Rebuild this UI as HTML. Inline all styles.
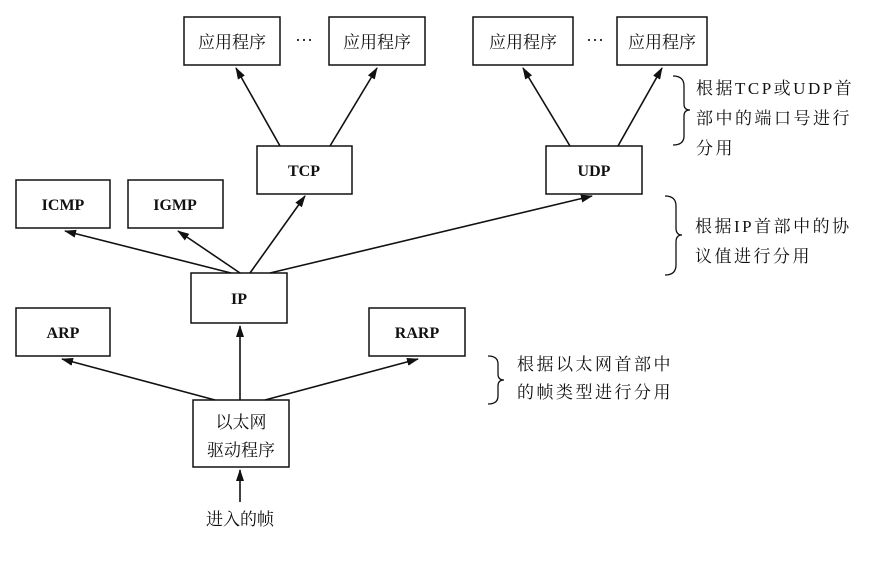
<!DOCTYPE html>
<html><head><meta charset="utf-8"><style>
body{margin:0;background:#fff;}
svg text{font-family:"Liberation Serif","Noto Serif CJK SC",serif;fill:#111;}
.cn{font-family:"Liberation Serif","Noto Sans CJK SC",sans-serif;font-size:16px;}
.rt{font-family:"Liberation Mono","Noto Sans CJK SC",sans-serif;font-size:17px;letter-spacing:2.5px;}
.en{font-weight:bold;font-size:16px;}
</style></head><body>
<svg width="878" height="559" viewBox="0 0 878 559" xmlns="http://www.w3.org/2000/svg">
<defs><marker id="a" markerWidth="12" markerHeight="8" refX="11" refY="4" orient="auto" markerUnits="userSpaceOnUse"><path d="M0,0 L12,4 L0,8 Z" fill="#111"/></marker></defs>
<g fill="#fff" stroke="#111" stroke-width="1.5">
<rect x="184" y="17" width="96" height="48"/>
<rect x="329" y="17" width="96" height="48"/>
<rect x="473" y="17" width="100" height="48"/>
<rect x="617" y="17" width="90" height="48"/>
<rect x="257" y="146" width="95" height="48"/>
<rect x="546" y="146" width="96" height="48"/>
<rect x="16" y="180" width="94" height="48"/>
<rect x="128" y="180" width="95" height="48"/>
<rect x="191" y="273" width="96" height="50"/>
<rect x="16" y="308" width="94" height="48"/>
<rect x="369" y="308" width="96" height="48"/>
<rect x="193" y="400" width="96" height="67"/>
</g>
<g stroke="#111" stroke-width="1.6" marker-end="url(#a)">
<line x1="280" y1="146" x2="236" y2="68"/>
<line x1="330" y1="146" x2="377" y2="68"/>
<line x1="570" y1="146" x2="523" y2="68"/>
<line x1="618" y1="146" x2="662" y2="68"/>
<line x1="231" y1="273" x2="65" y2="231"/>
<line x1="240" y1="273" x2="178" y2="231"/>
<line x1="250" y1="273" x2="305" y2="196"/>
<line x1="270" y1="273" x2="592" y2="196"/>
<line x1="240" y1="400" x2="240" y2="326"/>
<line x1="215" y1="400" x2="62" y2="359"/>
<line x1="265" y1="400" x2="418" y2="359"/>
<line x1="240" y1="502" x2="240" y2="470"/>
</g>
<g class="cn" text-anchor="middle" font-size="17">
<text x="232" y="48" style="font-size:17px">应用程序</text>
<text x="377" y="48" style="font-size:17px">应用程序</text>
<text x="523" y="48" style="font-size:17px">应用程序</text>
<text x="662" y="48" style="font-size:17px">应用程序</text>
<text x="241" y="428" style="font-size:17px">以太网</text>
<text x="241" y="456" style="font-size:17px">驱动程序</text>
<text x="240" y="525" style="font-size:17px">进入的帧</text>
</g>
<g font-size="18" text-anchor="middle"><text x="304" y="46">···</text><text x="595" y="46">···</text></g>
<g class="en" text-anchor="middle">
<text x="304" y="176">TCP</text>
<text x="594" y="176">UDP</text>
<text x="63" y="210">ICMP</text>
<text x="175" y="210">IGMP</text>
<text x="239" y="304">IP</text>
<text x="63" y="338">ARP</text>
<text x="417" y="338">RARP</text>
</g>
<g fill="none" stroke="#111" stroke-width="1.3">
<path d="M673,76 Q684,76 684,86 L684,104 Q684,110 690,110 Q684,110 684,116 L684,136 Q684,145 673,145"/>
<path d="M665,196 Q676,196 676,206 L676,228 Q676,235 682,235 Q676,235 676,242 L676,265 Q676,275 665,275"/>
<path d="M488,356 Q498,356 498,364 L498,374 Q498,380 504,380 Q498,380 498,386 L498,396 Q498,404 488,404"/>
</g>
<g class="rt">
<text x="696" y="94">根据TCP或UDP首</text>
<text x="696" y="124">部中的端口号进行</text>
<text x="696" y="154">分用</text>
<text x="695" y="232">根据IP首部中的协</text>
<text x="695" y="262">议值进行分用</text>
<text x="517" y="370">根据以太网首部中</text>
<text x="517" y="398">的帧类型进行分用</text>
</g>
</svg>
</body></html>
